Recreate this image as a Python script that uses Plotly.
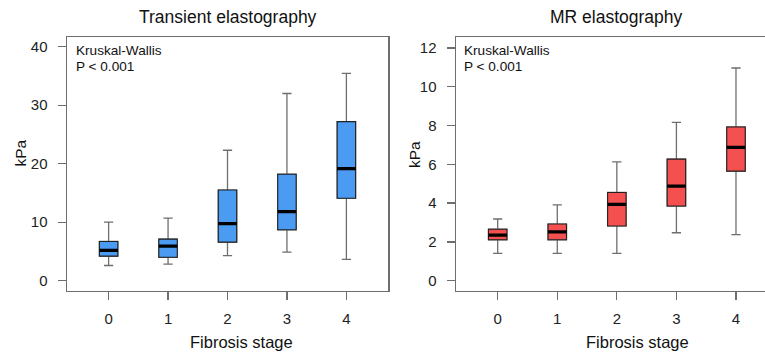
import plotly.graph_objects as go

# ---- data ----
stages = [0, 1, 2, 3, 4]
stage_labels = ["0", "1", "2", "3", "4"]

te_lower = [2.6, 2.85, 4.3, 4.9, 3.65]
te_q1 = [4.2, 4.0, 6.6, 8.7, 14.1]
te_median = [5.2, 5.9, 9.75, 11.8, 19.15]
te_q3 = [6.7, 7.1, 15.5, 18.2, 27.2]
te_upper = [10.0, 10.7, 22.3, 32.0, 35.45]

mre_lower = [1.41, 1.41, 1.41, 2.47, 2.37]
mre_q1 = [2.11, 2.11, 2.82, 3.85, 5.65]
mre_median = [2.35, 2.52, 3.93, 4.88, 6.88]
mre_q3 = [2.65, 2.92, 4.55, 6.27, 7.93]
mre_upper = [3.18, 3.91, 6.13, 8.16, 10.97]

te_ticks = [0, 10, 20, 30, 40]
mre_ticks = [0, 2, 4, 6, 8, 10, 12]

# ---- style ----
W, H = 765, 356
FONT = "Liberation Sans, Arial, Helvetica, sans-serif"
BOXW = 0.31
BLUE = "#4B9BF2"
RED = "#F4504F"
GRAY = "#6e6e6e"
DARK = "#222222"


def px(x):
    return x / W


def py(y):
    return 1 - y / H


fig = go.Figure()


def add_panel(xa, ya, lower, q1, med, q3, upper, fill):
    # whiskers (gray)
    fig.add_trace(go.Box(
        x=stages, q1=q1, median=med, q3=q3, lowerfence=lower, upperfence=upper,
        width=BOXW, whiskerwidth=0.5, fillcolor=fill, line=dict(color=GRAY, width=1.3),
        boxpoints=False, xaxis=xa, yaxis=ya, showlegend=False, hoverinfo="skip"))
    # box outline (dark)
    fig.add_trace(go.Box(
        x=stages, q1=q1, median=med, q3=q3, lowerfence=q1, upperfence=q3,
        width=BOXW, whiskerwidth=0, fillcolor=fill, line=dict(color=DARK, width=1.1),
        boxpoints=False, xaxis=xa, yaxis=ya, showlegend=False, hoverinfo="skip"))
    # thick median
    mx, my = [], []
    for s, m in zip(stages, med):
        mx += [s - BOXW / 2, s + BOXW / 2, None]
        my += [m, m, None]
    fig.add_trace(go.Scatter(x=mx, y=my, mode="lines", line=dict(color="black", width=3.2),
                             xaxis=xa, yaxis=ya, showlegend=False, hoverinfo="skip"))


add_panel("x", "y", te_lower, te_q1, te_median, te_q3, te_upper, BLUE)
add_panel("x2", "y2", mre_lower, mre_q1, mre_median, mre_q3, mre_upper, RED)

ydom = [py(290.7), py(37)]
common_ax = dict(showgrid=False, zeroline=False, showline=True, linecolor=GRAY, linewidth=1.5,
                 ticks="outside", ticklen=8, tickcolor=GRAY, tickwidth=1.3,
                 tickfont=dict(family=FONT, size=15, color="#222"))

fig.update_layout(
    width=W, height=H, margin=dict(l=0, r=0, t=0, b=0),
    paper_bgcolor="white", plot_bgcolor="white", boxmode="overlay",
    font=dict(family=FONT, color="#111"),
    xaxis=dict(domain=[px(67), px(388)], range=[-0.7, 4.7], tickvals=stages, ticktext=stage_labels,
               mirror=True, anchor="y", ticklabelstandoff=6, **common_ax),
    yaxis=dict(domain=ydom, range=[-1.71, 41.66], tickvals=te_ticks, mirror=True, anchor="x",
               ticklabelstandoff=7, **common_ax),
    xaxis2=dict(domain=[px(456), 1.0], range=[-0.7, 4.487], tickvals=stages, ticktext=stage_labels,
                mirror=True, anchor="y2", ticklabelstandoff=6, **common_ax),
    yaxis2=dict(domain=ydom, range=[-0.52, 12.57], tickvals=mre_ticks, mirror=False, anchor="x2",
                ticklabelstandoff=7, **common_ax),
)

anns = [
    dict(text="Transient elastography", x=px(227.5), y=py(17), size=17.5, xanchor="center"),
    dict(text="MR elastography", x=px(616), y=py(17), size=17.5, xanchor="center"),
    dict(text="Fibrosis stage", x=px(241), y=py(341.5), size=16.5, xanchor="center"),
    dict(text="Fibrosis stage", x=px(637.5), y=py(341.5), size=16.5, xanchor="center"),
    dict(text="Kruskal-Wallis", x=px(74), y=py(51), size=13.6, xanchor="left"),
    dict(text="P &lt; 0.001", x=px(74), y=py(67), size=13.6, xanchor="left"),
    dict(text="Kruskal-Wallis", x=px(462.5), y=py(51), size=13.6, xanchor="left"),
    dict(text="P &lt; 0.001", x=px(462.5), y=py(67), size=13.6, xanchor="left"),
]
for a in anns:
    fig.add_annotation(text=a["text"], x=a["x"], y=a["y"], xref="paper", yref="paper",
                       xanchor=a["xanchor"], yanchor="middle", showarrow=False,
                       font=dict(family=FONT, size=a["size"], color="#111"))
for xc, yc in [(19.5, 153), (414, 155)]:
    fig.add_annotation(text="kPa", x=px(xc), y=py(yc), xref="paper", yref="paper",
                       xanchor="center", yanchor="middle", showarrow=False, textangle=-90,
                       font=dict(family=FONT, size=15.5, color="#111"))

fig.write_html("out.html", config={"displayModeBar": False, "staticPlot": True},
               post_script="document.body.style.margin='0px';")
